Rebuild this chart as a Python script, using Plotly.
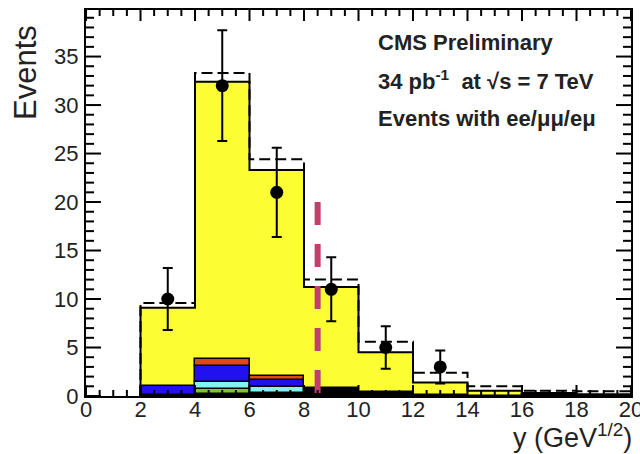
import plotly.graph_objects as go

# ---- data ----
bin_edges = [0, 2, 4, 6, 8, 10, 12, 14, 16, 18, 20]
bin_centers = [1, 3, 5, 7, 9, 11, 13, 15, 17, 19]
total_mc = [0, 9.1, 32.4, 23.3, 11.25, 4.5, 1.4, 0.55, 0.3, 0.15]      # yellow stack top
total_alt = [0, 9.6, 33.3, 24.4, 12.0, 5.6, 2.4, 1.0, 0.55, 0.5]        # dashed histogram
bkg_black = [0, 0.15, 0.2, 0.25, 0.85, 0.45, 0.15, 0.05, 0.25, 0.1]
bkg_green = [0, 0, 0.5, 0.05, 0, 0, 0, 0, 0, 0]
bkg_cyan = [0, 0, 0.7, 0.6, 0, 0, 0, 0, 0, 0]
bkg_blue = [0, 0.85, 1.65, 0.8, 0, 0, 0, 0, 0, 0]
bkg_red = [0, 0, 0.8, 0.35, 0, 0, 0, 0, 0, 0]
data_x = [3, 5, 7, 9, 11, 13]
data_y = [10, 32, 21, 11, 5, 3]
data_err = [3.2, 5.7, 4.6, 3.3, 2.2, 1.7]
cut_x = 8.5
cut_top = 20
x_major = [0, 2, 4, 6, 8, 10, 12, 14, 16, 18, 20]
y_major = [0, 5, 10, 15, 20, 25, 30, 35]
X_RANGE = [0, 20]
Y_RANGE = [0, 39.8]
X_MINOR_STEP = 0.5
Y_MINOR_STEP = 1

PLOT_W = 640 - 86 - 9
PLOT_H = 454 - 10 - 58

YELLOW = "#fdfd33"
fig = go.Figure()

fig.add_trace(go.Bar(x=bin_centers, y=[v if v > 0 else None for v in total_mc], width=2,
                     marker=dict(color=YELLOW, line=dict(width=0)), showlegend=False))

layers = [(bkg_black, "#000000"), (bkg_green, "#77cc22"), (bkg_cyan, "#88f0f0"),
          (bkg_blue, "#2210ee"), (bkg_red, "#e04818")]
base = [0.0] * len(bin_centers)
for vals, col in layers:
    ys = [v if v > 0 else None for v in vals]
    fig.add_trace(go.Bar(x=bin_centers, y=ys, base=base[:], width=2,
                         marker=dict(color=col, line=dict(color="black", width=1.5)),
                         showlegend=False))
    base = [b + v for b, v in zip(base, vals)]

sx = [bin_edges[1]] + bin_edges[1:] + [bin_edges[-1]]
sy = [0] + total_mc[1:] + [total_mc[-1], 0]
fig.add_trace(go.Scatter(x=sx, y=sy, mode="lines", line=dict(color="black", width=2, shape="hv"),
                         showlegend=False))

dx = [bin_edges[1]] + bin_edges[1:] + [bin_edges[-1]]
dy = [0] + total_alt[1:] + [total_alt[-1], 0]
fig.add_trace(go.Scatter(x=dx, y=dy, mode="lines",
                         line=dict(color="black", width=2, shape="hv", dash="11px,5px"),
                         showlegend=False))

fig.add_trace(go.Scatter(x=data_x, y=data_y, mode="markers",
                         marker=dict(color="black", size=13),
                         error_y=dict(type="data", array=data_err, color="black", thickness=2, width=5),
                         showlegend=False))

fig.add_shape(type="line", x0=cut_x, x1=cut_x, y0=cut_top, y1=0, xref="x", yref="y",
              line=dict(color="#c0406c", width=6, dash="23px,19px"))

# ---- ROOT-style inside ticks on all four sides, as data-coordinate line shapes ----
xu = (X_RANGE[1] - X_RANGE[0]) / PLOT_W
yu = (Y_RANGE[1] - Y_RANGE[0]) / PLOT_H
n_xm = int(round((X_RANGE[1] - X_RANGE[0]) / X_MINOR_STEP))
x_minor = [X_RANGE[0] + i * X_MINOR_STEP for i in range(n_xm + 1)]
x_minor = [v for v in x_minor if v not in x_major]
n_ym = int(Y_RANGE[1] // Y_MINOR_STEP)
y_minor = [i * Y_MINOR_STEP for i in range(n_ym + 1)]
y_minor = [v for v in y_minor if v not in y_major]

tick_line = dict(color="black", width=2)
for vals, ln in [(x_major, 11), (x_minor, 6)]:
    for v in vals:
        fig.add_shape(type="line", xref="x", yref="y", x0=v, x1=v,
                      y0=Y_RANGE[0], y1=Y_RANGE[0] + ln * yu, line=tick_line)
        fig.add_shape(type="line", xref="x", yref="y", x0=v, x1=v,
                      y0=Y_RANGE[1], y1=Y_RANGE[1] - ln * yu, line=tick_line)
for vals, ln in [(y_major, 15), (y_minor, 8)]:
    for v in vals:
        fig.add_shape(type="line", xref="x", yref="y", y0=v, y1=v,
                      x0=X_RANGE[0], x1=X_RANGE[0] + ln * xu, line=tick_line)
        fig.add_shape(type="line", xref="x", yref="y", y0=v, y1=v,
                      x0=X_RANGE[1], x1=X_RANGE[1] - ln * xu, line=tick_line)

axis_font = dict(family="Liberation Sans, Arial", size=22, color="#222")
fig.layout.xaxis = dict(range=X_RANGE, tickmode="array", tickvals=x_major, ticks="",
                        showline=True, linecolor="black", linewidth=2, mirror=True,
                        showgrid=False, zeroline=False, tickfont=axis_font,
                        automargin=False, ticklabeloverflow="allow", ticklabelstandoff=-7)
fig.layout.yaxis = dict(range=Y_RANGE, tickmode="array", tickvals=y_major, ticks="",
                        showline=True, linecolor="black", linewidth=2, mirror=True,
                        showgrid=False, zeroline=False, tickfont=axis_font,
                        automargin=False, ticklabelstandoff=1)

def px_x(p):
    return (p - 86) / PLOT_W

def px_y(p):
    return 1 - (p - 10) / PLOT_H

txt = dict(family="Liberation Sans, Arial", size=22, color="#222")
for text, yy in [("<b>CMS Preliminary</b>", 43),
                 ("<b>34 pb<sup>-1</sup>  at √s = 7 TeV</b>", 80),
                 ("<b>Events with ee/μμ/eμ</b>", 118)]:
    fig.add_annotation(text=text, x=px_x(376), y=px_y(yy), xref="paper", yref="paper",
                       xanchor="left", yanchor="middle", showarrow=False, font=txt)

fig.add_annotation(text="Events", textangle=-90, x=px_x(25), y=px_y(73), xref="paper", yref="paper",
                   xanchor="center", yanchor="middle", showarrow=False,
                   font=dict(family="Liberation Sans, Arial", size=31, color="#222"))
fig.add_annotation(text="y (GeV<sup>1/2</sup>)", x=px_x(633), y=px_y(454), xref="paper", yref="paper",
                   xanchor="right", yanchor="bottom", showarrow=False, borderpad=0,
                   font=dict(family="Liberation Sans, Arial", size=27, color="#222"))

fig.update_layout(width=640, height=454, barmode="overlay", bargap=0,
                  margin=dict(l=86, r=9, t=10, b=58, autoexpand=False),
                  paper_bgcolor="white", plot_bgcolor="white", showlegend=False)

fig.write_html("out.html")
